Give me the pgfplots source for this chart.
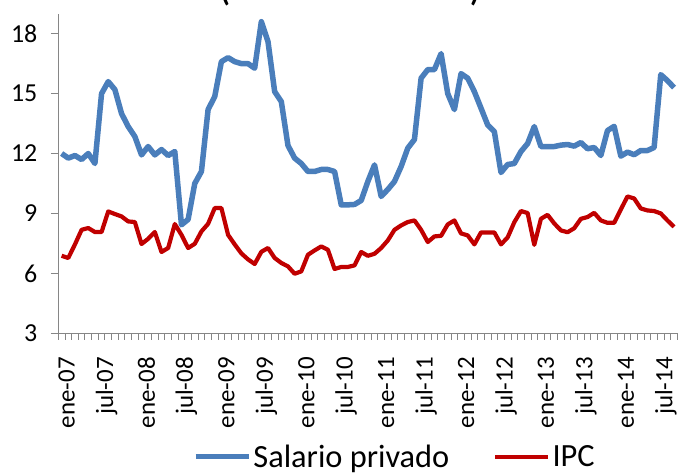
\documentclass[border=0pt]{standalone}
\usepackage{pgfplots}
\usepackage{pgfplotstable}
\pgfplotsset{compat=1.18}
\usepackage{fontspec}
\setmainfont{Carlito}
\definecolor{bluS}{HTML}{4A7EBB}
\definecolor{redI}{HTML}{C00000}
\definecolor{axg}{HTML}{868686}

\pgfplotstableread{
x y
0 12.0
1 11.77
2 11.9
3 11.7
4 12.0
5 11.5
6 15.0
7 15.6
8 15.2
9 14.0
10 13.35
11 12.85
12 11.93
13 12.35
14 11.93
15 12.2
16 11.9
17 12.1
18 8.43
19 8.7
20 10.5
21 11.1
22 14.2
23 14.85
24 16.6
25 16.8
26 16.6
27 16.5
28 16.5
29 16.27
30 18.6
31 17.6
32 15.1
33 14.6
34 12.4
35 11.77
36 11.5
37 11.1
38 11.1
39 11.2
40 11.2
41 11.1
42 9.43
43 9.43
44 9.45
45 9.65
46 10.6
47 11.43
48 9.85
49 10.2
50 10.6
51 11.35
52 12.27
53 12.7
54 15.77
55 16.2
56 16.2
57 17.0
58 15.0
59 14.2
60 16.0
61 15.77
62 15.1
63 14.27
64 13.43
65 13.1
66 11.05
67 11.45
68 11.5
69 12.1
70 12.5
71 13.35
72 12.35
73 12.35
74 12.35
75 12.42
76 12.45
77 12.37
78 12.55
79 12.24
80 12.3
81 11.9
82 13.15
83 13.36
84 11.87
85 12.07
86 11.94
87 12.15
88 12.15
89 12.3
90 15.95
91 15.65
92 15.3
}\salario

\pgfplotstableread{
x y
0 6.88
1 6.77
2 7.45
3 8.18
4 8.27
5 8.07
6 8.07
7 9.1
8 8.97
9 8.85
10 8.6
11 8.57
12 7.47
13 7.73
14 8.07
15 7.07
16 7.27
17 8.47
18 7.93
19 7.27
20 7.48
21 8.1
22 8.48
23 9.27
24 9.27
25 7.93
26 7.45
27 7.0
28 6.7
29 6.47
30 7.08
31 7.27
32 6.77
33 6.52
34 6.35
35 5.98
36 6.1
37 6.93
38 7.15
39 7.35
40 7.18
41 6.22
42 6.32
43 6.32
44 6.4
45 7.07
46 6.88
47 6.98
48 7.27
49 7.65
50 8.18
51 8.4
52 8.57
53 8.65
54 8.18
55 7.57
56 7.85
57 7.88
58 8.45
59 8.65
60 8.0
61 7.9
62 7.45
63 8.05
64 8.05
65 8.05
66 7.45
67 7.8
68 8.56
69 9.12
70 9.02
71 7.43
72 8.73
73 8.93
74 8.5
75 8.15
76 8.06
77 8.26
78 8.73
79 8.82
80 9.03
81 8.65
82 8.53
83 8.53
84 9.2
85 9.85
86 9.75
87 9.25
88 9.15
89 9.12
90 9.0
91 8.65
92 8.33
}\ipc

\begin{document}
\begin{tikzpicture}[x=1bp,y=1bp]
\useasboundingbox (0,0) rectangle (679,476);
\begin{scope}[overlay]
\clip (0,0) rectangle (679,476);
\node[font=\bfseries\fontsize{30}{30}\selectfont, anchor=base] at (350,474) {(\hspace{240bp})};
\begin{axis}[
  at={(58.3bp,142.7bp)}, anchor=south west,
  scale only axis,
  width=619.1bp, height=319.6bp,
  xmin=-0.5, xmax=92.5,
  ymin=3, ymax=19,
  axis x line*=bottom, axis y line*=left,
  axis line style={axg, line width=1.2bp, -},
  xtick={0,6,...,90},
  xticklabels={ene-07,jul-07,ene-08,jul-08,ene-09,jul-09,ene-10,jul-10,ene-11,jul-11,ene-12,jul-12,ene-13,jul-13,ene-14,jul-14},
  minor xtick={-0.5,0.5,...,92.5},
  ytick={3,6,9,12,15,18},
  tick align=outside,
  major x tick style={draw=none},
  minor x tick style={axg, line width=0.9bp},
  major y tick style={axg, line width=1.2bp},
  minor tick length=6.5bp,
  major tick length=7.5bp,
  x tick label style={rotate=90, anchor=east, font=\fontsize{25}{25}\selectfont, yshift=-5bp, xshift=-13bp},
  y tick label style={font=\fontsize{26}{26}\selectfont, xshift=-10bp},
  /pgf/number format/assume math mode=true,
  legend style={draw=none, fill=none, at={(0.5435,-0.386)}, anchor=center,
    legend columns=2, font=\fontsize{32.5}{32.5}\selectfont, inner sep=0pt,
    /tikz/every even column/.append style={column sep=42bp}},
  legend image code/.code={\draw[#1] (0bp,0bp) -- (53bp,0bp);},
  line join=round,
]
\addplot[bluS, line width=5.5bp] table[x=x,y=y] {\salario};
\addlegendentry{Salario privado}
\addplot[redI, line width=4.2bp] table[x=x,y=y] {\ipc};
\addlegendentry{IPC}
\end{axis}
\end{scope}
\end{tikzpicture}
\end{document}
